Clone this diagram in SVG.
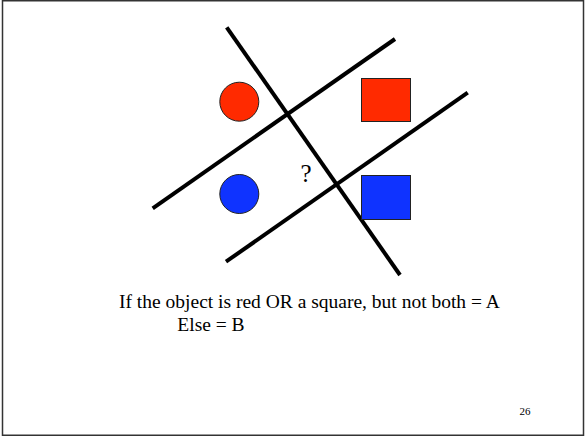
<svg xmlns="http://www.w3.org/2000/svg" width="586" height="437" viewBox="0 0 586 437">
<style>
.ln{stroke:#000;stroke-width:4;fill:none}
.sh{stroke:#222;stroke-width:1}
.t{font-family:"Liberation Serif",serif;fill:#000}
</style>
<rect x="0" y="0" width="586" height="437" fill="#fff"/>
<rect x="2.5" y="0.75" width="581" height="434.5" fill="none" stroke="#333" stroke-width="1.5"/>
<g id="connectors">
<line class="ln" x1="226.7" y1="27.3" x2="400" y2="275"/>
<line class="ln" x1="152.7" y1="208.3" x2="395" y2="39"/>
<line class="ln" x1="226" y1="261.7" x2="467.7" y2="92.7"/>
</g>
<g id="red-circle"><circle class="sh" cx="239.3" cy="101.7" r="19.5" fill="#ff2a00"/></g>
<g id="blue-circle"><circle class="sh" cx="239.3" cy="194" r="19.5" fill="#0f33ff"/></g>
<g id="red-square"><rect class="sh" x="361.5" y="78.5" width="49" height="43" fill="#ff2a00"/></g>
<g id="blue-square"><rect class="sh" x="361.5" y="175.5" width="49" height="44" fill="#0f33ff"/></g>
<g id="question"><text class="t" x="306" y="181.5" font-size="25" text-anchor="middle">?</text></g>
<g id="caption">
<text class="t" x="119" y="307.5" font-size="19.5">If the object is red OR a square, but not both = A</text>
<text class="t" x="177.3" y="331" font-size="19.5">Else = B</text>
</g>
<g id="page"><text class="t" x="525" y="415" font-size="11" text-anchor="middle">26</text></g>
</svg>
